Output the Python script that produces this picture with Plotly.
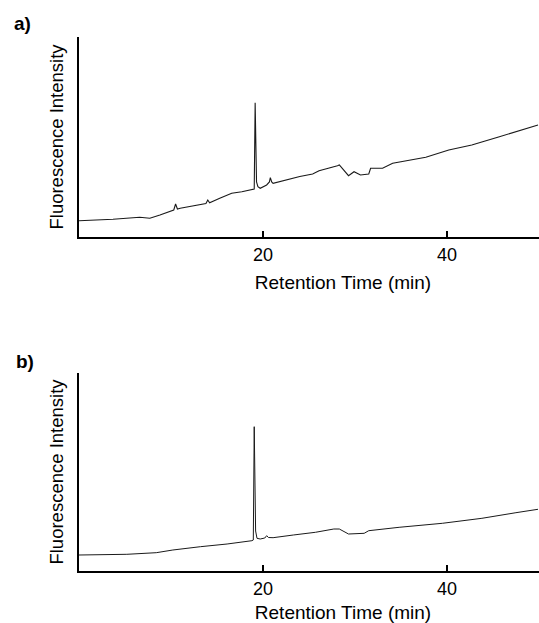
import plotly.graph_objects as go

# Panel a) chromatogram
t_a = [0, 3.7, 6.6, 7.7, 8.8, 9.9, 10.3, 10.5, 10.7, 11, 12.4, 13.8, 14, 14.2, 15.3,
       16.6, 17.7, 18.9, 19.05, 19.15, 19.3, 19.45, 19.7, 20.4, 20.7, 20.8, 20.95, 21.1,
       22.5, 24, 25.4, 26.1, 28.1, 28.3, 29.3, 29.9, 30.6, 31.5, 31.7, 33, 34.1, 37.7,
       40.2, 42.7, 45.7, 48.6, 49.9]
v_a = [16.3, 17.7, 19.7, 18.7, 22, 25.3, 27, 33, 28, 28.7, 31, 33.5, 37, 34.3, 38.7,
       43.7, 45.3, 47.7, 48, 134.3, 55, 50.3, 48.7, 52, 55, 59.3, 55, 53.7,
       57, 60.5, 63, 66.3, 71.3, 72, 61.3, 65.3, 62, 63, 68.7, 68.7, 73.7, 79.7,
       87, 92, 100.3, 108, 112]

# Panel b) chromatogram
t_b = [0, 5.2, 8.4, 10.2, 13.2, 16.1, 18.8, 18.95, 19.05, 19.2, 19.35, 19.7, 20.2,
       20.4, 20.6, 21.1, 23.3, 25.7, 27.7, 28.3, 29.3, 31, 31.5, 34.8, 39.5, 43.8,
       47.5, 49.9]
v_b = [16, 16.7, 18.3, 21, 24.3, 27, 30.3, 31, 144.3, 40, 32.7, 32, 33,
       35.3, 33.5, 33.3, 36, 38.7, 42, 42, 37, 37.7, 40.3, 43.7, 47.7, 52.7,
       58.3, 61.7]

x_ticks = [20, 40]
x_title = "Retention Time (min)"
y_title = "Fluorescence Intensity"
panel_labels = ["a)", "b)"]

FONT = "Liberation Sans, Arial, Helvetica, sans-serif"
LINE = "#1a1a1a"

# The original figure is cropped on the right: the axes run past the page edge.
FIG_W = 607
X_MAX = 57.4

fig = go.Figure()
fig.add_trace(go.Scatter(x=t_a, y=v_a, mode="lines", line=dict(color=LINE, width=1.1),
                         xaxis="x", yaxis="y", showlegend=False))
fig.add_trace(go.Scatter(x=t_b, y=v_b, mode="lines", line=dict(color=LINE, width=1),
                         xaxis="x2", yaxis="y2", showlegend=False))

xa = dict(range=[0, X_MAX], showline=True, linecolor="black", linewidth=2,
          ticks="inside", ticklen=6, tickwidth=2, tickcolor="black",
          tickvals=x_ticks, showgrid=False, zeroline=False,
          tickfont=dict(family=FONT, size=18, color="black"),
          title=dict(text=x_title, font=dict(family=FONT, size=19, color="black"), standoff=12))
ya = dict(showline=True, linecolor="black", linewidth=2, ticks="",
          showticklabels=False, showgrid=False, zeroline=False,
          title=dict(text=y_title, font=dict(family=FONT, size=18.5, color="black"), standoff=9))

plot_w = FIG_W - 79
fig.update_layout(
    width=FIG_W, height=623,
    margin=dict(l=79, r=0, t=37, b=52),
    paper_bgcolor="white", plot_bgcolor="white",
    xaxis=dict(xa, domain=[0, 1], anchor="y"),
    yaxis=dict(ya, domain=[0.6255, 1], range=[0, 200], anchor="x"),
    xaxis2=dict(xa, domain=[0, 1], anchor="y2"),
    yaxis2=dict(ya, domain=[0, 0.3708], range=[0, 198], anchor="x2"),
    annotations=[
        dict(text="<b>" + panel_labels[0] + "</b>", xref="paper", yref="paper",
             x=-57 / plot_w, y=1.026, xanchor="center", yanchor="middle", showarrow=False,
             font=dict(family=FONT, size=19, color="black")),
        dict(text="<b>" + panel_labels[1] + "</b>", xref="paper", yref="paper",
             x=-54 / plot_w, y=0.393, xanchor="center", yanchor="middle", showarrow=False,
             font=dict(family=FONT, size=19, color="black")),
    ],
)

fig.write_html("out.html", config={"displayModeBar": False},
               post_script="document.body.style.margin='0px';document.body.style.overflow='hidden';")
